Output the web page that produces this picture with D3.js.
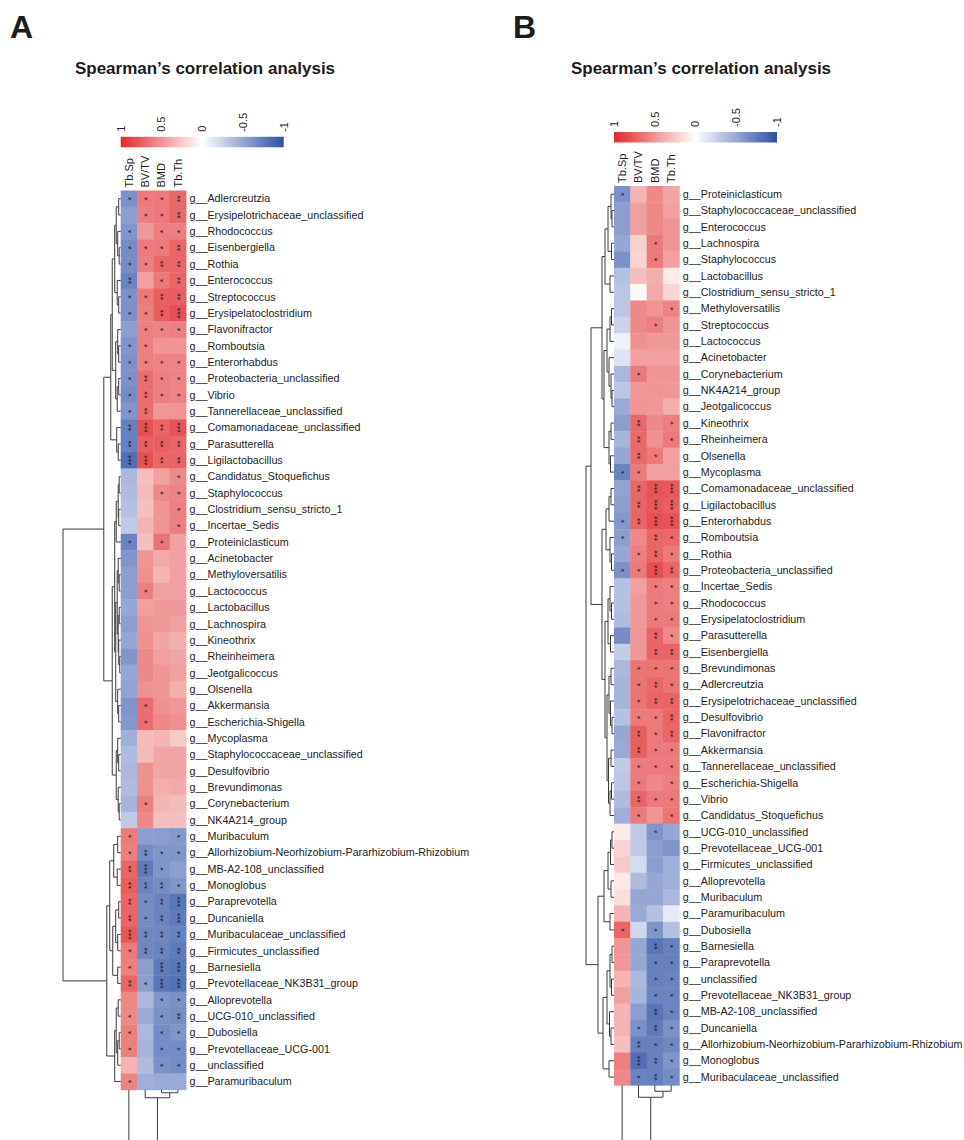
<!DOCTYPE html>
<html>
<head>
<meta charset="utf-8">
<script src="https://cdn.jsdelivr.net/npm/d3@7"></script>
<style>
  body { margin: 0; background: #fff; }
  svg { display: block; }
  text { font-family: "Liberation Sans", Arial, sans-serif; fill: #1e1c1c; }
</style>
</head>
<body>
<div id="chart"></div>
<script>
// ---- data ----
const traits = ["Tb.Sp", "BV/TV", "BMD", "Tb.Th"];
const legendTicks = [1, 0.5, 0, -0.5, -1];

const generaA = ["Adlercreutzia","Erysipelotrichaceae_unclassified","Rhodococcus","Eisenbergiella","Rothia","Enterococcus","Streptococcus","Erysipelatoclostridium","Flavonifractor","Romboutsia","Enterorhabdus","Proteobacteria_unclassified","Vibrio","Tannerellaceae_unclassified","Comamonadaceae_unclassified","Parasutterella","Ligilactobacillus","Candidatus_Stoquefichus","Staphylococcus","Clostridium_sensu_stricto_1","Incertae_Sedis","Proteiniclasticum","Acinetobacter","Methyloversatilis","Lactococcus","Lactobacillus","Lachnospira","Kineothrix","Rheinheimera","Jeotgalicoccus","Olsenella","Akkermansia","Escherichia-Shigella","Mycoplasma","Staphylococcaceae_unclassified","Desulfovibrio","Brevundimonas","Corynebacterium","NK4A214_group","Muribaculum","Allorhizobium-Neorhizobium-Pararhizobium-Rhizobium","MB-A2-108_unclassified","Monoglobus","Paraprevotella","Duncaniella","Muribaculaceae_unclassified","Firmicutes_unclassified","Barnesiella","Prevotellaceae_NK3B31_group","Alloprevotella","UCG-010_unclassified","Dubosiella","Prevotellaceae_UCG-001","unclassified","Paramuribaculum"];

// rho per row: Tb.Sp, BV/TV, BMD, Tb.Th
const valuesA = [
  [-0.62,0.62,0.62,0.70],[-0.55,0.60,0.62,0.70],[-0.60,0.48,0.60,0.60],[-0.65,0.62,0.62,0.72],
  [-0.65,0.60,0.70,0.72],[-0.70,0.45,0.62,0.72],[-0.62,0.62,0.75,0.75],[-0.62,0.60,0.75,0.82],
  [-0.55,0.60,0.58,0.60],[-0.60,0.60,0.50,0.50],[-0.62,0.60,0.58,0.58],[-0.62,0.68,0.60,0.58],
  [-0.65,0.68,0.60,0.58],[-0.60,0.68,0.48,0.50],[-0.72,0.82,0.72,0.80],[-0.72,0.75,0.75,0.72],
  [-0.82,0.82,0.72,0.72],[-0.40,0.30,0.45,0.55],[-0.38,0.32,0.55,0.58],[-0.35,0.30,0.50,0.60],
  [-0.30,0.35,0.50,0.60],[-0.70,0.30,0.65,0.45],[-0.60,0.50,0.40,0.45],[-0.55,0.52,0.35,0.45],
  [-0.55,0.60,0.45,0.45],[-0.50,0.45,0.48,0.48],[-0.55,0.50,0.48,0.45],[-0.50,0.52,0.42,0.38],
  [-0.60,0.55,0.45,0.42],[-0.50,0.55,0.50,0.45],[-0.52,0.52,0.50,0.38],[-0.60,0.68,0.52,0.48],
  [-0.58,0.68,0.55,0.52],[-0.45,0.32,0.35,0.25],[-0.38,0.32,0.42,0.42],[-0.40,0.52,0.42,0.42],
  [-0.38,0.52,0.38,0.40],[-0.42,0.60,0.35,0.32],[-0.30,0.55,0.30,0.30],[0.62,-0.55,-0.55,-0.58],
  [0.60,-0.65,-0.60,-0.60],[0.72,-0.75,-0.60,-0.55],[0.75,-0.70,-0.65,-0.60],[0.72,-0.65,-0.70,-0.78],
  [0.72,-0.65,-0.70,-0.75],[0.78,-0.68,-0.68,-0.72],[0.62,-0.68,-0.70,-0.75],[0.60,-0.55,-0.75,-0.78],
  [0.72,-0.55,-0.78,-0.80],[0.55,-0.40,-0.60,-0.62],[0.55,-0.48,-0.62,-0.65],[0.60,-0.40,-0.65,-0.60],
  [0.60,-0.42,-0.65,-0.65],[0.35,-0.38,-0.62,-0.65],[0.58,-0.45,-0.48,-0.48]
];
// number of significance stars per cell
const starsA = ["1112","0112","1011","1112","1122","2012","1122","1123","0111","1100","1111","1211","1211","1200","2323","2222","3322",
  "0001","0011","0001","0001","1010","0000","0000","0100","0000","0000","0000","0000","0000","0000","0100","0100",
  "0000","0000","0000","0000","0100","0000","1001","1211","2310","2221","2123","2123","3222","1222","1033","2133",
  "0011","1012","1011","1011","0011","1000"];

const generaB = ["Proteiniclasticum","Staphylococcaceae_unclassified","Enterococcus","Lachnospira","Staphylococcus","Lactobacillus","Clostridium_sensu_stricto_1","Methyloversatilis","Streptococcus","Lactococcus","Acinetobacter","Corynebacterium","NK4A214_group","Jeotgalicoccus","Kineothrix","Rheinheimera","Olsenella","Mycoplasma","Comamonadaceae_unclassified","Ligilactobacillus","Enterorhabdus","Romboutsia","Rothia","Proteobacteria_unclassified","Incertae_Sedis","Rhodococcus","Erysipelatoclostridium","Parasutterella","Eisenbergiella","Brevundimonas","Adlercreutzia","Erysipelotrichaceae_unclassified","Desulfovibrio","Flavonifractor","Akkermansia","Tannerellaceae_unclassified","Escherichia-Shigella","Vibrio","Candidatus_Stoquefichus","UCG-010_unclassified","Prevotellaceae_UCG-001","Firmicutes_unclassified","Alloprevotella","Muribaculum","Paramuribaculum","Dubosiella","Barnesiella","Paraprevotella","unclassified","Prevotellaceae_NK3B31_group","MB-A2-108_unclassified","Duncaniella","Allorhizobium-Neorhizobium-Pararhizobium-Rhizobium","Monoglobus","Muribaculaceae_unclassified"];

const valuesB = [
  [-0.62,0.35,0.55,0.42],[-0.55,0.45,0.55,0.45],[-0.55,0.45,0.55,0.50],[-0.50,0.22,0.62,0.50],
  [-0.62,0.20,0.62,0.45],[-0.35,0.30,0.38,0.10],[-0.32,0.03,0.40,0.20],[-0.32,0.55,0.50,0.58],
  [-0.25,0.55,0.60,0.50],[-0.08,0.52,0.48,0.48],[-0.15,0.45,0.45,0.45],[-0.40,0.62,0.50,0.50],
  [-0.32,0.48,0.50,0.48],[-0.48,0.50,0.48,0.38],[-0.55,0.70,0.55,0.60],[-0.42,0.70,0.52,0.62],
  [-0.50,0.70,0.62,0.45],[-0.70,0.62,0.45,0.45],[-0.52,0.72,0.80,0.78],[-0.55,0.72,0.78,0.75],
  [-0.58,0.72,0.82,0.80],[-0.55,0.55,0.72,0.70],[-0.50,0.60,0.72,0.62],[-0.62,0.62,0.82,0.72],
  [-0.35,0.45,0.62,0.60],[-0.35,0.48,0.62,0.60],[-0.38,0.48,0.62,0.62],[-0.65,0.48,0.72,0.55],
  [-0.28,0.48,0.72,0.72],[-0.40,0.65,0.65,0.65],[-0.42,0.65,0.70,0.65],[-0.42,0.65,0.72,0.72],
  [-0.35,0.62,0.62,0.72],[-0.50,0.75,0.62,0.72],[-0.48,0.75,0.62,0.62],[-0.30,0.62,0.62,0.62],
  [-0.32,0.62,0.55,0.60],[-0.38,0.72,0.62,0.62],[-0.45,0.62,0.50,0.65],[0.10,-0.30,-0.60,-0.50],
  [0.20,-0.30,-0.55,-0.60],[0.25,-0.20,-0.55,-0.45],[0.10,-0.38,-0.50,-0.45],[0.15,-0.50,-0.50,-0.40],
  [0.35,-0.48,-0.35,-0.12],[0.72,-0.22,-0.60,-0.35],[0.50,-0.50,-0.78,-0.72],[0.48,-0.50,-0.72,-0.72],
  [0.35,-0.40,-0.72,-0.70],[0.45,-0.42,-0.70,-0.70],[0.35,-0.55,-0.78,-0.70],[0.35,-0.62,-0.75,-0.62],
  [0.30,-0.72,-0.72,-0.68],[0.60,-0.82,-0.72,-0.60],[0.55,-0.70,-0.72,-0.65]
];
const starsB = ["1000","0000","0000","0010","0010","0000","0000","0001","0010","0000","0000","0100","0000","0000","0201","0201","0210","1100",
  "0233","0233","1233","1021","0121","1132","0011","0011","0011","0021","0022","0111","0121","0122","0112","0212","0211","0111","0101","0211","0101",
  "0010","0000","0000","0000","0000","0000","1010","0021","0011","0011","0011","0021","0121","0211","0321","0121"];

// dendrograms: leaves are row indexes, h = merge height
const rowTreeA = {h:58, c:[
  {h:17, c:[
    {h:10, c:[
      {h:8.5, c:[
        {h:6, c:[
          {h:4.5, c:[{h:2, c:[0,1]}, {h:3, c:[2, {h:1.5, c:[3,4]}]}]},
          {h:3.5, c:[5, {h:2, c:[6,7]}]}
        ]},
        {h:5, c:[
          {h:3, c:[8, {h:2, c:[9,10]}]},
          {h:3.5, c:[{h:2, c:[11,12]}, 13]}
        ]}
      ]},
      {h:4, c:[14, {h:2.5, c:[15,16]}]}
    ]},
    {h:8.5, c:[
      {h:6, c:[
        {h:4.5, c:[{h:2.5, c:[{h:1.5, c:[17,18]}, {h:2, c:[19,20]}]}, 21]},
        {h:5, c:[
          {h:3.5, c:[{h:2.5, c:[22, {h:1.5, c:[23,24]}]}, {h:2.5, c:[{h:1.5, c:[25,26]}, {h:2, c:[27, {h:1, c:[28,29]}]}]}]},
          {h:3, c:[30, {h:2, c:[31,32]}]}
        ]}
      ]},
      {h:4.5, c:[{h:3, c:[33, {h:2, c:[34,35]}]}, {h:2.5, c:[36, {h:1.5, c:[37,38]}]}]}
    ]}
  ]},
  {h:14, c:[
    {h:11, c:[
      {h:7, c:[{h:3, c:[39,40]}, {h:3.5, c:[41,42]}]},
      {h:8, c:[{h:5, c:[{h:2, c:[43,44]}, {h:3, c:[45,46]}]}, {h:3, c:[47,48]}]}
    ]},
    {h:6, c:[{h:4.5, c:[{h:2.5, c:[49,50]}, {h:3, c:[{h:1.5, c:[51,52]}, 53]}]}, 54]}
  ]}
]};

const rowTreeB = {h:28, c:[
  {h:23, c:[
    {h:12, c:[
      {h:9, c:[
        {h:6, c:[{h:3, c:[0, {h:2, c:[1,2]}]}, {h:2.5, c:[3,4]}]},
        {h:4, c:[5,6]}
      ]},
      {h:10, c:[
        {h:7, c:[
          {h:4, c:[{h:2.5, c:[7,8]}, 9]},
          {h:5, c:[10, {h:3, c:[11, {h:2, c:[12,13]}]}]}
        ]},
        {h:5, c:[{h:3, c:[14,15]}, {h:3.5, c:[16,17]}]}
      ]}
    ]},
    {h:12, c:[
      {h:8, c:[
        {h:5, c:[{h:3, c:[18,19]}, 20]},
        {h:4, c:[21, {h:2.5, c:[22,23]}]}
      ]},
      {h:9, c:[
        {h:6, c:[{h:4, c:[24, {h:2.5, c:[25,26]}]}, {h:3.5, c:[27,28]}]},
        {h:7, c:[
          {h:5, c:[{h:3, c:[29,30]}, {h:3.5, c:[31, {h:2, c:[32,33]}]}]},
          {h:5.5, c:[{h:3, c:[34,35]}, {h:4, c:[{h:2.5, c:[36,37]}, 38]}]}
        ]}
      ]}
    ]}
  ]},
  {h:16, c:[
    {h:10, c:[
      {h:6, c:[{h:3.5, c:[{h:2, c:[39,40]}, 41]}, {h:3, c:[42,43]}]},
      {h:4, c:[44,45]}
    ]},
    {h:11, c:[
      {h:7, c:[{h:4, c:[{h:2, c:[46,47]}, {h:2.5, c:[48,49]}]}, {h:4.5, c:[50, {h:3, c:[51,52]}]}]},
      {h:5, c:[53,54]}
    ]}
  ]}
]};

const colTreeA = {h:70, c:[0, {h:8, c:[1, {h:3, c:[2,3]}]}]};
const colTreeB = {h:70, c:[0, {h:12, c:[1, {h:6, c:[2,3]}]}]};

// ---- drawing ----
const width = 964, height = 1140;
const svg = d3.select("#chart").append("svg")
  .attr("width", width).attr("height", height);

const color = d3.scaleLinear().domain([-1, 0, 1])
  .range(["#2C4EA6", "#ffffff", "#E0292B"]);

// walk a tree and give each node a position (pos) and height (ht)
function layoutTree(tree, leafPos) {
  var root = d3.hierarchy(tree, d => typeof d === "number" ? null : d.c);
  root.eachAfter(n => {
    if (!n.children) { n.pos = leafPos(n.data); n.ht = 0; }
    else {
      n.ht = n.data.h;
      var ps = n.children.map(c => c.pos);
      n.pos = (d3.min(ps) + d3.max(ps)) / 2;
    }
  });
  return root;
}

function drawPanel(p) {
  var g = svg.append("g");
  var nRow = p.genera.length;
  var cw = 16.33, ch = 16.35;

  var x = d3.scaleBand().domain(d3.range(traits.length)).range([p.left, p.left + cw * traits.length]);
  var y = d3.scaleBand().domain(d3.range(nRow)).range([p.top, p.top + ch * nRow]);
  var right = p.left + cw * traits.length;
  var bottom = p.top + ch * nRow;

  // panel letter + title
  g.append("text").attr("x", p.letterX).attr("y", 38)
    .attr("font-size", "32px").attr("font-weight", "bold").text(p.letter);
  g.append("text").attr("x", p.titleX).attr("y", 74)
    .attr("text-anchor", "middle").attr("font-size", "17px").attr("font-weight", "bold")
    .text("Spearman\u2019s correlation analysis");

  // legend
  var lx = d3.scaleLinear().domain([1, -1]).range([p.left, p.left + 163]);
  var gid = "grad" + p.letter;
  var grad = svg.append("defs").append("linearGradient").attr("id", gid);
  d3.range(0, 1.0001, 0.05).forEach(t => {
    grad.append("stop").attr("offset", t).attr("stop-color", color(1 - 2 * t));
  });
  g.append("rect").attr("x", lx(1)).attr("y", p.legendY)
    .attr("width", lx(-1) - lx(1)).attr("height", 10.5)
    .attr("fill", "url(#" + gid + ")");
  g.selectAll(".ltick").data(legendTicks).join("text")
    .attr("class", "ltick")
    .attr("transform", d => `translate(${lx(d)},${p.legendY - 5}) rotate(-90)`)
    .attr("dy", "0.35em").attr("font-size", "11px")
    .text(d => String(d));

  // cells
  var cells = p.values.flatMap((row, i) => row.map((v, j) => ({i: i, j: j, v: v, s: +p.stars[i][j]})));
  g.selectAll(".cell").data(cells).join("rect")
    .attr("class", "cell")
    .attr("x", d => x(d.j)).attr("y", d => y(d.i))
    .attr("width", x.bandwidth() + 0.4).attr("height", y.bandwidth() + 0.4)
    .attr("fill", d => color(d.v));

  g.selectAll(".star").data(cells.filter(d => d.s > 0)).join("text")
    .attr("class", "star")
    .attr("transform", d => `translate(${x(d.j) + x.bandwidth() / 2},${y(d.i) + y.bandwidth() / 2}) rotate(-90)`)
    .attr("text-anchor", "middle").attr("dy", "0.55em")
    .attr("font-size", "9px").style("fill", "#222")
    .text(d => "*".repeat(d.s));

  // column labels
  g.selectAll(".clab").data(traits).join("text")
    .attr("class", "clab")
    .attr("transform", (d, j) => `translate(${x(j) + x.bandwidth() / 2},${p.top - 3}) rotate(-90)`)
    .attr("dy", "0.35em").attr("font-size", "11px")
    .text(d => d);

  // row labels
  g.selectAll(".rlab").data(p.genera).join("text")
    .attr("class", "rlab")
    .attr("x", right + 3.5).attr("y", (d, i) => y(i) + y.bandwidth() / 2)
    .attr("dy", "0.35em").attr("font-size", "10.75px")
    .text(d => "g__" + d);

  // row dendrogram
  var hx = d3.scaleLinear().domain([0, p.rowTree.h]).range([p.left, p.rootX]);
  var rroot = layoutTree(p.rowTree, i => y(i) + y.bandwidth() / 2);
  var path = d3.path();
  rroot.each(n => {
    if (!n.children) return;
    var ps = n.children.map(c => c.pos);
    path.moveTo(hx(n.ht), d3.min(ps)); path.lineTo(hx(n.ht), d3.max(ps));
    n.children.forEach(c => { path.moveTo(hx(n.ht), c.pos); path.lineTo(hx(c.ht), c.pos); });
  });
  g.append("path").attr("d", path.toString())
    .attr("fill", "none").attr("stroke", "#3a3a3a").attr("stroke-width", 1);

  // column dendrogram (below the heatmap)
  var hy = d3.scaleLinear().domain([0, p.colTree.h]).range([bottom, bottom + p.colTree.h]);
  var croot = layoutTree(p.colTree, j => x(j) + x.bandwidth() / 2);
  var cpath = d3.path();
  croot.each(n => {
    if (!n.children) return;
    var ps = n.children.map(c => c.pos);
    cpath.moveTo(d3.min(ps), hy(n.ht)); cpath.lineTo(d3.max(ps), hy(n.ht));
    n.children.forEach(c => { cpath.moveTo(c.pos, hy(n.ht)); cpath.lineTo(c.pos, hy(c.ht)); });
  });
  g.append("path").attr("d", cpath.toString())
    .attr("fill", "none").attr("stroke", "#3a3a3a").attr("stroke-width", 1);
}

drawPanel({letter: "A", letterX: 10, titleX: 205, left: 120.7, top: 190.5, legendY: 136.8, rootX: 63,
  genera: generaA, values: valuesA, stars: starsA, rowTree: rowTreeA, colTree: colTreeA});
drawPanel({letter: "B", letterX: 513, titleX: 701, left: 614, top: 186, legendY: 132, rootX: 586,
  genera: generaB, values: valuesB, stars: starsB, rowTree: rowTreeB, colTree: colTreeB});
</script>
</body>
</html>
